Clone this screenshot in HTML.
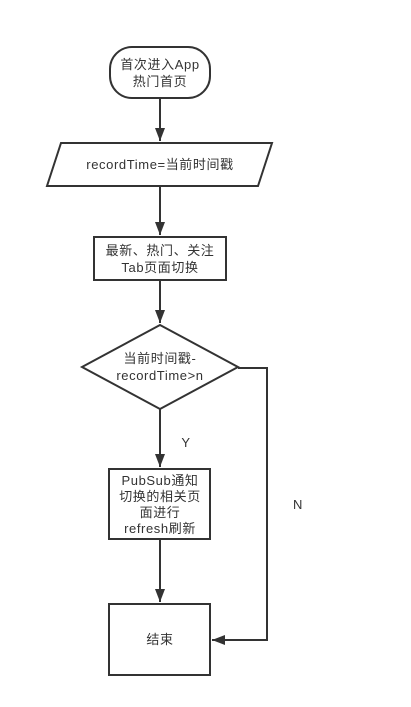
<!DOCTYPE html>
<html><head><meta charset="utf-8"><style>
html,body{margin:0;padding:0;background:#fff;width:411px;height:707px;overflow:hidden}
svg text{font-family:"Liberation Sans","Noto Sans CJK SC",sans-serif;font-size:13px;letter-spacing:0.6px;fill:#333;text-anchor:middle}
</style></head><body>
<svg width="411" height="707" viewBox="0 0 411 707" xmlns="http://www.w3.org/2000/svg">
<defs><marker id="b" markerWidth="14" markerHeight="14" refX="13" refY="5" orient="auto" markerUnits="userSpaceOnUse"><path d="M0,0 L13,5 L0,10 Z" fill="#333"/></marker></defs>
<g stroke="#333" stroke-width="2" fill="#fff">
<rect x="110" y="47" width="100" height="51" rx="22"/>
<polygon points="61,143 272,143 258,186 47,186"/>
<rect x="94" y="237" width="132" height="43"/>
<polygon points="160,325 238,367 160,409 82,367"/>
<rect x="109" y="469" width="101" height="70"/>
<rect x="109" y="604" width="101" height="71"/>
</g>
<g stroke="#333" stroke-width="2" fill="none">
<line x1="160" y1="98" x2="160" y2="141" marker-end="url(#b)"/>
<line x1="160" y1="186" x2="160" y2="235" marker-end="url(#b)"/>
<line x1="160" y1="280" x2="160" y2="323" marker-end="url(#b)"/>
<line x1="160" y1="409" x2="160" y2="467" marker-end="url(#b)"/>
<line x1="160" y1="539" x2="160" y2="602" marker-end="url(#b)"/>
<polyline points="238,368 267,368 267,640 212,640" marker-end="url(#b)"/>
</g>
<text x="160" y="69">首次进入App</text>
<text x="160" y="86">热门首页</text>
<text x="160" y="169">recordTime=当前时间戳</text>
<text x="160" y="255">最新、热门、关注</text>
<text x="160" y="272">Tab页面切换</text>
<text x="160" y="363">当前时间戳-</text>
<text x="160" y="380">recordTime&gt;n</text>
<text x="186" y="447">Y</text>
<text x="298" y="509">N</text>
<text x="160" y="485">PubSub通知</text>
<text x="160" y="501">切换的相关页</text>
<text x="160" y="517">面进行</text>
<text x="160" y="533">refresh刷新</text>
<text x="160" y="644">结束</text>
</svg>
</body></html>
